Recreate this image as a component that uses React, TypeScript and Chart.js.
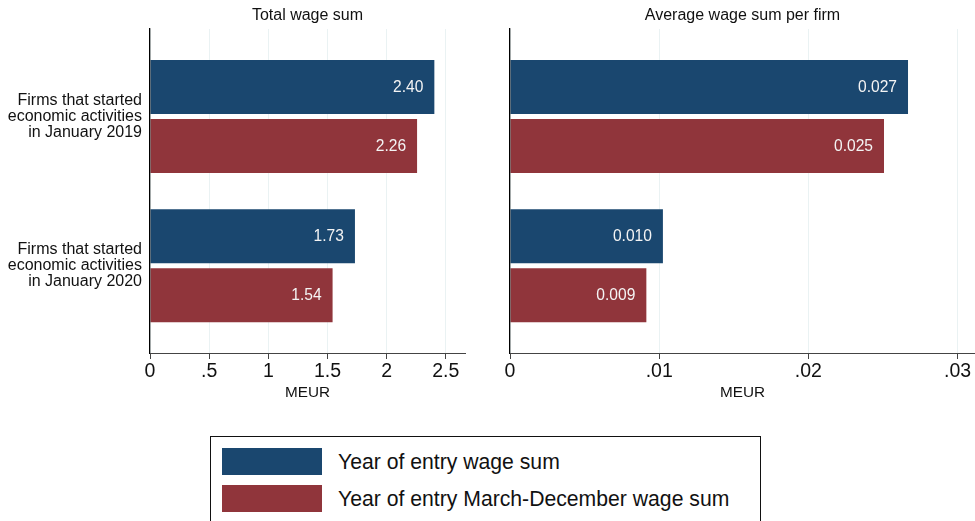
import React, { useEffect, useRef } from "react";
import { Chart, registerables } from "chart.js";

Chart.register(...registerables);

const FONT = '"Liberation Sans", Arial, Helvetica, sans-serif';

// ---- data ----
const categoryLines = [
  ["Firms that started", "economic activities", "in January 2019"],
  ["Firms that started", "economic activities", "in January 2020"],
];
const seriesNames = [
  "Year of entry wage sum",
  "Year of entry March-December wage sum",
];
const seriesColors = ["#1a476f", "#90353b"];

const totalEntry = [2.403, 1.732];
const totalMarDec = [2.257, 1.543];
const avgEntry = [0.02668, 0.01025];
const avgMarDec = [0.02507, 0.00914];

const totalTicks = [0, 0.5, 1, 1.5, 2, 2.5];
const totalTickLabels = ["0", ".5", "1", "1.5", "2", "2.5"];
const avgTicks = [0, 0.01, 0.02, 0.03];
const avgTickLabels = ["0", ".01", ".02", ".03"];

const totalMax = 2.662;
const avgMax = 0.03117;
const axisTitle = "MEUR";
const catMin = -0.5865;
const catMax = 1.585;

type PanelProps = {
  title: string;
  series: number[][];
  ticks: number[];
  tickLabels: string[];
  xMax: number;
  decimals: number;
  showYLabels: boolean;
  yWidth: number;
  padRight: number;
  width: number;
  left: number;
};

function makeValueLabels(decimals: number) {
  return {
    id: "valueLabels",
    afterDatasetsDraw(chart: any) {
      const ctx = chart.ctx;
      ctx.save();
      ctx.font = `15.6px ${FONT}`;
      ctx.fillStyle = "#f4f4f4";
      ctx.textAlign = "right";
      ctx.textBaseline = "middle";
      chart.data.datasets.forEach((ds: any, di: number) => {
        const meta = chart.getDatasetMeta(di);
        meta.data.forEach((el: any, i: number) => {
          const v = ds.data[i].x as number;
          ctx.fillText(v.toFixed(decimals), el.x - 11, el.y + 0.5);
        });
      });
      ctx.restore();
    },
  };
}

function Panel(p: PanelProps) {
  const ref = useRef<HTMLCanvasElement | null>(null);
  useEffect(() => {
    if (!ref.current) return;
    const chart = new Chart(ref.current, {
      type: "bar",
      data: {
        datasets: p.series.map((vals, si) => ({
          label: seriesNames[si],
          data: categoryLines.map((_, i) => ({ x: vals[i], y: i })),
          backgroundColor: seriesColors[si],
          borderWidth: 0,
          categoryPercentage: 0.791,
          barPercentage: 0.915,
        })),
      },
      options: {
        indexAxis: "y",
        animation: false,
        responsive: false,
        maintainAspectRatio: false,
        layout: { padding: { left: 0, right: p.padRight, top: 0, bottom: 0 } },
        plugins: {
          legend: { display: false },
          tooltip: { enabled: false },
          title: {
            display: true,
            text: p.title,
            fullSize: false,
            color: "#111",
            font: { family: FONT, size: 16, weight: "normal", lineHeight: 1.2 },
            padding: { top: 5.8, bottom: 4 },
          },
        },
        scales: {
          y: {
            type: "linear",
            reverse: true,
            offset: false,
            bounds: "data",
            grace: 0,
            beginAtZero: false,
            min: catMin,
            max: catMax,
            afterDataLimits: (s: any) => {
              s.min = catMin;
              s.max = catMax;
            },
            afterBuildTicks: (s: any) => {
              s.ticks = categoryLines.map((_, i) => ({ value: i }));
              s.min = catMin;
              s.max = catMax;
            },
            afterFit: (s: any) => {
              s.width = p.yWidth;
              s.paddingTop = 0;
              s.paddingBottom = 0;
            },
            grid: { drawOnChartArea: false, drawTicks: false, offset: false },
            border: { display: true, color: "#000", width: 1.3, z: 1 },
            ticks: {
              display: p.showYLabels,
              padding: 8,
              color: "#111",
              font: { family: FONT, size: 16, lineHeight: 0.98 },
              callback: (_v: any, i: number) => categoryLines[i],
            },
          },
          x: {
            type: "linear",
            min: 0,
            max: p.xMax,
            bounds: "data",
            afterBuildTicks: (s: any) => {
              s.ticks = p.ticks.map((v) => ({ value: v }));
            },
            afterFit: (s: any) => {
              s.height = 47;
              s.paddingLeft = 0;
              s.paddingRight = 0;
            },
            grid: {
              color: "#eaf2f3",
              lineWidth: 1,
              drawTicks: true,
              tickLength: 6,
              tickColor: "#444",
            },
            border: { display: true, color: "#444", width: 1, z: 1 },
            ticks: {
              padding: 1,
              color: "#111",
              autoSkip: false,
              maxRotation: 0,
              font: { family: FONT, size: 19.5 },
              callback: (_v: any, i: number) => p.tickLabels[i],
            },
            title: {
              display: true,
              text: axisTitle,
              color: "#111",
              font: { family: FONT, size: 15.3, lineHeight: 1 },
              padding: 0,
            },
          },
        },
      } as any,
      plugins: [makeValueLabels(p.decimals)],
    });
    return () => chart.destroy();
  }, []);
  return (
    <canvas
      ref={ref}
      width={p.width}
      height={400}
      style={{ position: "absolute", left: p.left, top: 0, width: p.width, height: 400 }}
    />
  );
}

export default function App() {
  return (
    <div
      style={{
        position: "fixed",
        left: 0,
        top: 0,
        width: 975,
        height: 521,
        background: "#fff",
        overflow: "hidden",
        fontFamily: FONT,
      }}
    >
      <Panel
        title="Total wage sum"
        series={[totalEntry, totalMarDec]}
        ticks={totalTicks}
        tickLabels={totalTickLabels}
        xMax={totalMax}
        decimals={2}
        showYLabels={true}
        yWidth={150}
        padRight={15}
        width={480}
        left={0}
      />
      <Panel
        title="Average wage sum per firm"
        series={[avgEntry, avgMarDec]}
        ticks={avgTicks}
        tickLabels={avgTickLabels}
        xMax={avgMax}
        decimals={3}
        showYLabels={false}
        yWidth={30}
        padRight={0}
        width={495}
        left={480}
      />
      <div
        style={{
          position: "absolute",
          left: 210,
          top: 436,
          width: 551,
          height: 120,
          border: "1.3px solid #111",
          boxSizing: "border-box",
        }}
      />
      {seriesNames.map((name, i) => (
        <React.Fragment key={name}>
          <div
            style={{
              position: "absolute",
              left: 222,
              top: 448 + i * 37,
              width: 100,
              height: 27,
              background: seriesColors[i],
            }}
          />
          <div
            style={{
              position: "absolute",
              left: 338,
              top: 448 + i * 37,
              height: 27,
              lineHeight: "27px",
              fontSize: 21.2,
              color: "#111",
              whiteSpace: "nowrap",
            }}
          >
            {name}
          </div>
        </React.Fragment>
      ))}
    </div>
  );
}
